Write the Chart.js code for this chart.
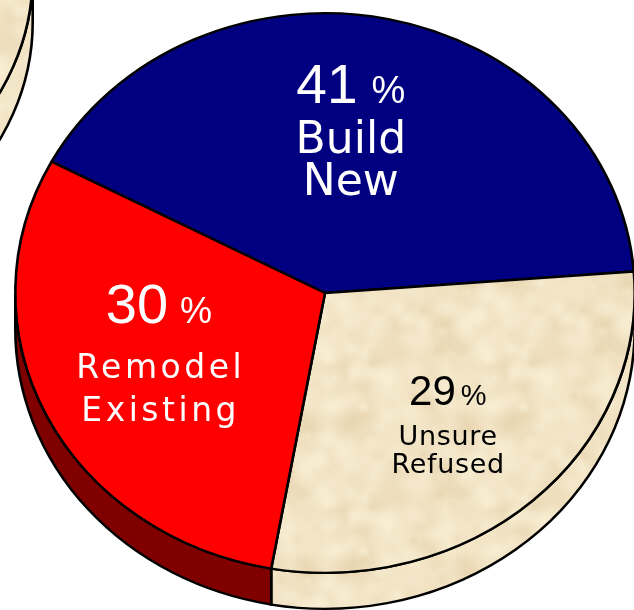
<!DOCTYPE html>
<html>
<head>
<meta charset="utf-8">
<script src="https://cdn.jsdelivr.net/npm/chart.js@4.4.0/dist/chart.umd.min.js"></script>
<style>
html, body { margin:0; padding:0; background:#fff; overflow:hidden; width:634px; height:610px; }
#side { position:absolute; left:-547px; top:-325px; }
#main { position:absolute; left:0; top:0; }
</style>
</head>
<body>
<canvas id="side" width="600" height="600"></canvas>
<canvas id="main" width="640" height="660"></canvas>
<script>
// ===== Data =====
const categories = ['Build New', 'Unsure Refused', 'Remodel Existing'];
const shares = [41, 29, 30];
const nameLines = [['Build', 'New'], ['Unsure', 'Refused'], ['Remodel', 'Existing']];
// neighbouring pie, only its cream edge shows in the corner
const neighbourShares = [100];

// ===== Parchment texture =====
function parchment() {
  const c = document.createElement('canvas');
  c.width = c.height = 160;
  const g = c.getContext('2d');
  g.fillStyle = '#f3e5c7';
  g.fillRect(0, 0, 160, 160);
  let seed = 12345;
  const next = () => { seed = (seed * 16807) % 2147483647; return seed / 2147483647; };
  for (let i = 0; i < 200; i++) {
    const x = next() * 160, y = next() * 160, r = 6 + next() * 18;
    const dark = next() < 0.55;
    const col = dark ? '220,196,150' : '255,246,222';
    const a = dark ? 0.16 : 0.3;
    for (const ox of [-160, 0, 160]) for (const oy of [-160, 0, 160]) {
      const grad = g.createRadialGradient(x + ox, y + oy, 0, x + ox, y + oy, r);
      grad.addColorStop(0, `rgba(${col},${a})`);
      grad.addColorStop(1, `rgba(${col},0)`);
      g.fillStyle = grad;
      g.fillRect(x + ox - r, y + oy - r, r * 2, r * 2);
    }
  }
  return c.getContext('2d').createPattern(c, 'repeat');
}
const paper = parchment();

const topColors = ['#000080', paper, '#ff0000'];
const sideColors = ['#000060', paper, '#800000'];

// label layout: radius fraction, x shift, baselines (pct, line1, line2)
const labelStyle = [
  { f: 0.55, dx: -9, rows: [-39, 11, 53], color: '#fff', num: 55, sign: 38, gap: 14, name: 44, spacing: 0 },
  { f: 0.60, dx: -2, rows: [-12, 28, 56], color: '#000', num: 42, sign: 29, gap: 5, name: 27, spacing: 0.7 },
  { f: 0.55, dx: -13, rows: [-37, 18, 61], color: '#fff', num: 56, sign: 36, gap: 12, name: 33, spacing: 3.5 }
];

// ===== 3D look: squash the pie and draw the front wall =====
function make3d(cfg) {
  return {
    id: 'pie3d',
    beforeDatasetsDraw(chart) {
      const ctx = chart.ctx;
      const arcs = chart.getDatasetMeta(0).data;
      const { x, y } = arcs[0];
      ctx.save();
      ctx.translate(x, y + cfg.shiftY);
      ctx.scale(1, cfg.squash);
      ctx.translate(-x, -y);
      const depth = cfg.depth / cfg.squash;
      arcs.forEach((arc, i) => {
        const r = arc.outerRadius;
        [-2 * Math.PI, 0, 2 * Math.PI].forEach(k => {
          const a0 = Math.max(arc.startAngle + k, 0);
          const a1 = Math.min(arc.endAngle + k, Math.PI);
          if (a1 <= a0) return;
          ctx.beginPath();
          ctx.arc(x, y, r, a0, a1);
          ctx.arc(x, y + depth, r, a1, a0, true);
          ctx.closePath();
          ctx.fillStyle = cfg.sides[i];
          ctx.fill();
          ctx.lineWidth = 2.6;
          ctx.strokeStyle = '#000';
          ctx.stroke();
        });
      });
    },
    afterDatasetsDraw(chart) {
      const ctx = chart.ctx;
      ctx.restore();
      if (!cfg.labels) return;
      const arcs = chart.getDatasetMeta(0).data;
      arcs.forEach((arc, i) => {
        const st = labelStyle[i];
        const mid = (arc.startAngle + arc.endAngle) / 2;
        const px = arc.x + st.f * arc.outerRadius * Math.cos(mid) + st.dx;
        const py = arc.y + cfg.shiftY + st.f * arc.outerRadius * cfg.squash * Math.sin(mid);
        ctx.save();
        ctx.fillStyle = st.color;
        ctx.textBaseline = 'alphabetic';
        const num = String(shares[i]);
        ctx.font = st.num + 'px "Liberation Sans"';
        const wNum = ctx.measureText(num).width;
        ctx.font = st.sign + 'px "Liberation Sans"';
        const wSign = ctx.measureText('%').width;
        const x0 = px - (wNum + st.gap + wSign) / 2;
        ctx.textAlign = 'left';
        ctx.font = st.num + 'px "Liberation Sans"';
        ctx.fillText(num, x0, py + st.rows[0]);
        ctx.font = st.sign + 'px "Liberation Sans"';
        ctx.fillText('%', x0 + wNum + st.gap, py + st.rows[0]);
        ctx.textAlign = 'center';
        ctx.font = st.name + 'px "DejaVu Sans"';
        ctx.letterSpacing = st.spacing + 'px';
        nameLines[i].forEach((t, j) => ctx.fillText(t, px + st.spacing / 2, py + st.rows[j + 1]));
        ctx.restore();
      });
    }
  };
}

Chart.defaults.animation = false;

// ===== Neighbour pie (top-left corner) =====
new Chart(document.getElementById('side'), {
  type: 'pie',
  data: {
    labels: ['Other'],
    datasets: [{ data: neighbourShares, backgroundColor: [paper], borderColor: '#000', borderWidth: 2.6 }]
  },
  options: {
    responsive: false,
    layout: { padding: 19 },
    plugins: { legend: { display: false }, tooltip: { enabled: false } }
  },
  plugins: [make3d({ squash: 0.893, shiftY: 0, depth: 47, sides: [paper], labels: false })]
});

// ===== Main pie =====
new Chart(document.getElementById('main'), {
  type: 'pie',
  data: {
    labels: categories,
    datasets: [{
      data: shares,
      backgroundColor: topColors,
      borderColor: '#000',
      borderWidth: 2.6
    }]
  },
  options: {
    responsive: false,
    rotation: -62,
    layout: { padding: { left: 14, right: 4, top: 0, bottom: 38 } },
    plugins: { legend: { display: false }, tooltip: { enabled: false } }
  },
  plugins: [make3d({ squash: 0.9035, shiftY: -18, depth: 36, sides: sideColors, labels: true })]
});
</script>
</body>
</html>
